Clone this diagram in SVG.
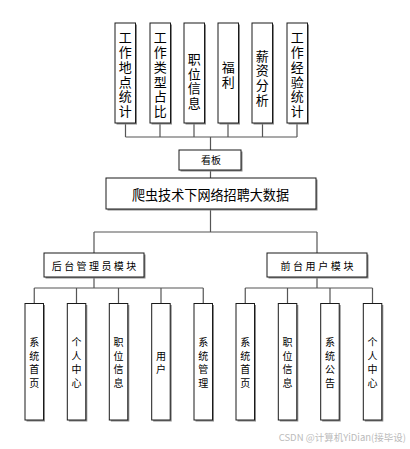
<svg xmlns="http://www.w3.org/2000/svg" width="410" height="449" viewBox="0 0 410 449">
<defs>
<style>
.sh{fill:#8a8a8a}
.bx{fill:#fff;stroke:#1a1a1a;stroke-width:1}
.t{font-family:"Noto Sans CJK SC","Liberation Sans",sans-serif;fill:#000}
.v{writing-mode:vertical-rl;text-anchor:start}
.tv{font-size:13px;letter-spacing:1.7px}
.tb{font-size:10px;letter-spacing:3.5px}
.ts{font-size:10px;text-anchor:middle}
.cn{fill:none;stroke:#555;stroke-width:1.2}
</style>
</defs>
<rect width="410" height="449" fill="#fff"/>
<g id="connectors">
<path class="cn" d="M125.5,123V137M160,123V137M194,123V137M228,123V137M262.5,123V137M297,123V137M125.5,137H297M210.5,137V150"/>
<path class="cn" d="M210.5,170V178M210.5,209V232M94,232H317M94,232V253M317,232V253"/>
<path class="cn" d="M94,277V288M34.25,288H203.25M34.25,288V303.5M76.5,288V303.5M118.5,288V303.5M161,288V303.5M203.25,288V303.5"/>
<path class="cn" d="M317,277V288M245.25,288H372.5M245.25,288V303.5M287.5,288V303.5M330,288V303.5M372.5,288V303.5"/>
</g>
<g id="n1"><rect class="sh" x="116.5" y="24.5" width="20.5" height="100"/><rect class="bx" x="115" y="23" width="20.5" height="100"/>
<text class="t v tv" x="125.3" y="31">工作地点统计</text></g>
<g id="n2"><rect class="sh" x="151.5" y="24.5" width="20.5" height="100"/><rect class="bx" x="150" y="23" width="20.5" height="100"/>
<text class="t v tv" x="160.3" y="31">工作类型占比</text></g>
<g id="n3"><rect class="sh" x="185.5" y="24.5" width="20.5" height="100"/><rect class="bx" x="184" y="23" width="20.5" height="100"/>
<text class="t v tv" x="194.3" y="52.5">职位信息</text></g>
<g id="n4"><rect class="sh" x="219.5" y="24.5" width="20.5" height="100"/><rect class="bx" x="218" y="23" width="20.5" height="100"/>
<text class="t v tv" x="228.3" y="61">福利</text></g>
<g id="n5"><rect class="sh" x="253.5" y="24.5" width="20.5" height="100"/><rect class="bx" x="252" y="23" width="20.5" height="100"/>
<text class="t v tv" x="262.3" y="49.3">薪资分析</text></g>
<g id="n6"><rect class="sh" x="288.5" y="24.5" width="20.5" height="100"/><rect class="bx" x="287" y="23" width="20.5" height="100"/>
<text class="t v tv" x="297.3" y="31">工作经验统计</text></g>
<g id="kanban"><rect class="sh" x="180.5" y="151.5" width="62" height="20"/><rect class="bx" x="179" y="150" width="62" height="20"/>
<text class="t ts" x="211" y="164">看板</text></g>
<g id="main"><rect class="sh" x="107.5" y="179.5" width="210" height="31"/><rect class="bx" x="106" y="178" width="210" height="31"/>
<text class="t" x="210.5" y="199.5" font-size="13.1" text-anchor="middle">爬虫技术下网络招聘大数据</text></g>
<g id="admin"><rect class="sh" x="45.5" y="254.5" width="100" height="24"/><rect class="bx" x="44" y="253" width="100" height="24"/>
<text class="t ts" x="95.2" y="269.5" letter-spacing="2.4">后台管理员模块</text></g>
<g id="user"><rect class="sh" x="268.5" y="254.5" width="100" height="24"/><rect class="bx" x="267" y="253" width="100" height="24"/>
<text class="t ts" x="318.2" y="269.5" letter-spacing="2.6">前台用户模块</text></g>
<g id="a1"><rect class="sh" x="26.5" y="305" width="18.5" height="116.5"/><rect class="bx" x="25" y="303.5" width="18.5" height="116.5"/>
<text class="t v tb" x="34.25" y="337.5">系统首页</text></g>
<g id="a2"><rect class="sh" x="68.8" y="305" width="18.5" height="116.5"/><rect class="bx" x="67.3" y="303.5" width="18.5" height="116.5"/>
<text class="t v tb" x="76.55" y="337.5">个人中心</text></g>
<g id="a3"><rect class="sh" x="110.8" y="305" width="18.5" height="116.5"/><rect class="bx" x="109.3" y="303.5" width="18.5" height="116.5"/>
<text class="t v tb" x="118.55" y="337.5">职位信息</text></g>
<g id="a4"><rect class="sh" x="153.2" y="305" width="18.5" height="116.5"/><rect class="bx" x="151.7" y="303.5" width="18.5" height="116.5"/>
<text class="t v tb" x="160.95" y="351">用户</text></g>
<g id="a5"><rect class="sh" x="195.5" y="305" width="18.5" height="116.5"/><rect class="bx" x="194" y="303.5" width="18.5" height="116.5"/>
<text class="t v tb" x="203.25" y="337.5">系统管理</text></g>
<g id="u1"><rect class="sh" x="237.5" y="305" width="18.5" height="116.5"/><rect class="bx" x="236" y="303.5" width="18.5" height="116.5"/>
<text class="t v tb" x="245.25" y="337.5">系统首页</text></g>
<g id="u2"><rect class="sh" x="279.8" y="305" width="18.5" height="116.5"/><rect class="bx" x="278.3" y="303.5" width="18.5" height="116.5"/>
<text class="t v tb" x="287.55" y="337.5">职位信息</text></g>
<g id="u3"><rect class="sh" x="322.2" y="305" width="18.5" height="116.5"/><rect class="bx" x="320.7" y="303.5" width="18.5" height="116.5"/>
<text class="t v tb" x="329.95" y="337.5">系统公告</text></g>
<g id="u4"><rect class="sh" x="364.8" y="305" width="18.5" height="116.5"/><rect class="bx" x="363.3" y="303.5" width="18.5" height="116.5"/>
<text class="t v tb" x="372.55" y="337.5">个人中心</text></g>
<text class="t" x="406" y="441" font-size="9.5" text-anchor="end" style="fill:#bbbbbb">CSDN @计算机YiDian(接毕设)</text>
</svg>
